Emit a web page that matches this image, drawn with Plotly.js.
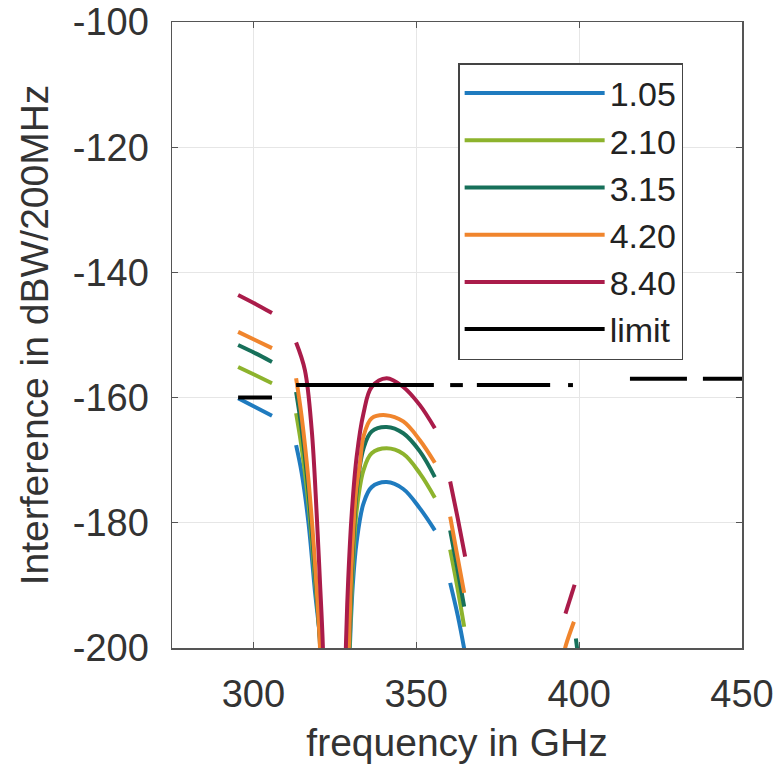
<!DOCTYPE html>
<html>
<head>
<meta charset="utf-8">
<script src="https://cdn.plot.ly/plotly-3.0.1.min.js"></script>
<style>html,body{margin:0;padding:0;background:#fff;}#plot{width:774px;height:768px;}</style>
</head>
<body>
<div id="plot"></div>
<script>
// ---- data (frequency in GHz, interference in dBW/200MHz), null = gap ----
const seriesNames = ["1.05", "2.10", "3.15", "4.20", "8.40", "limit"];

const f105 = [295.3, 300.5, 305.7, null,
  313.1, 314.8, 316.9, 318.9, 320.7, 321.4, null,
  328.9, 329.6, 330.5, 331.7, 333.8, 336.3, 340.9, 346.0, 351.1, 355.7, null,
  360.4, 362.8, 365.2];
const v105 = [-160.1, -161.5, -162.9, null,
  -167.6, -172, -180, -191, -200, -212, null,
  -212, -200, -190, -183, -176.9, -174.3, -173.5, -174.6, -177.7, -181.2, null,
  -189.6, -195, -201.5];

const f210 = [295.3, 300.5, 305.7, null,
  313.1, 314.8, 316.9, 318.9, 320.6, 321.3, null,
  328.8, 329.5, 330.4, 331.7, 333.8, 336.3, 340.9, 346.0, 351.1, 355.7, null,
  360.4, 362.5, 364.7];
const v210 = [-155.1, -156.4, -157.7, null,
  -162.5, -168, -177, -189, -200, -212, null,
  -212, -200, -188, -178, -171.6, -168.9, -168.1, -169, -172.1, -176, null,
  -184.3, -190, -196.6];

const f315 = [295.3, 300.5, 305.7, null,
  313.1, 314.8, 316.9, 318.9, 320.5, 321.2, null,
  328.7, 329.4, 330.3, 331.7, 333.8, 336.3, 340.9, 346.0, 351.1, 355.7, null,
  360.4, 362.5, 364.7, null,
  399.0, 399.6];
const v315 = [-151.6, -152.9, -154.3, null,
  -159.1, -165, -175, -188, -200, -212, null,
  -212, -200, -187, -175, -168.1, -165.4, -164.7, -165.7, -168.6, -172.7, null,
  -181.2, -187, -193.4, null,
  -198.5, -201];

const f420 = [295.3, 300.5, 305.7, null,
  313.1, 314.8, 316.9, 318.9, 320.4, 321.1, null,
  328.6, 329.3, 330.2, 331.5, 332.7, 333.8, 336.3, 340.6, 346.0, 351.1, 355.7, null,
  360.4, 362.5, 364.7, null,
  395.4, 395.8, 398.4];
const v420 = [-149.5, -150.8, -152.1, null,
  -156.9, -163, -173.2, -186.5, -199.5, -212, null,
  -212, -200, -186, -175, -170.5, -166.2, -163.3, -162.8, -163.8, -166.8, -170.4, null,
  -179, -185, -191.2, null,
  -201, -199.8, -195.8];

const f840 = [295.3, 300.5, 305.7, null,
  313.1, 315.8, 317.9, 319.4, 320.4, 321.3, 321.8, null,
  327.9, 328.4, 329.1, 330.2, 331.7, 333.8, 336.3, 340.9, 346.0, 351.1, 355.7, null,
  360.4, 362.7, 365.0, null,
  395.8, 398.6];
const v840 = [-143.6, -145, -146.5, null,
  -151.2, -155.6, -165.2, -178.4, -189.1, -199.5, -212, null,
  -212, -199.5, -189.1, -178.4, -169.4, -162.5, -158.3, -156.9, -158.3, -161.2, -164.9, null,
  -173.4, -179.2, -185.4, null,
  -194.5, -189.9];

const fLimit = [295.3, 305.7, null, 313.1, 355.4, null, 360.4, 364.3, null,
  368.6, 391.1, null, 396.6, 398.1, null, 415.6, 433.1, null, 438.0, 450.0];
const vLimit = [-160, -160, null, -158, -158, null, -158, -158, null,
  -158, -158, null, -158, -158, null, -157, -157, null, -157, -157];

const xTicks = [300, 350, 400, 450];
const yTicks = [-200, -180, -160, -140, -120, -100];

// ---- styling ----
const colors = ["#1f7bbf", "#8db32d", "#17705a", "#f0852d", "#aa1c4a", "#000000"];
const xs = [f105, f210, f315, f420, f840, fLimit];
const ys = [v105, v210, v315, v420, v840, vLimit];

const traces = xs.map((x, i) => ({
  type: "scatter",
  mode: "lines",
  x: x,
  y: ys[i],
  name: seriesNames[i],
  connectgaps: false,
  line: { color: colors[i], width: 4, shape: i < 5 ? "spline" : "linear", smoothing: 1 },
  hoverinfo: "skip"
}));

const fontFam = "'Liberation Sans', Arial, sans-serif";
const textCol = "#333333";

const layout = {
  width: 774,
  height: 768,
  margin: { l: 172, r: 32, t: 22, b: 120 },
  paper_bgcolor: "#ffffff",
  plot_bgcolor: "#ffffff",
  font: { family: fontFam, color: textCol },
  showlegend: true,
  legend: {
    x: 0.502, y: 0.9345, xanchor: "left", yanchor: "top",
    bgcolor: "#ffffff",
    bordercolor: "#444444",
    borderwidth: 1.5,
    font: { family: fontFam, size: 34, color: "#222222" },
    itemwidth: 140,
    traceorder: "normal"
  },
  xaxis: {
    range: [275, 450],
    tickvals: xTicks,
    ticktext: xTicks.map(String),
    showgrid: true,
    gridcolor: "#e6e6e6",
    gridwidth: 1,
    zeroline: false,
    showline: true,
    linecolor: "#555555",
    linewidth: 1.5,
    mirror: "ticks",
    ticks: "inside",
    ticklen: 6,
    tickcolor: "#555555",
    tickfont: { size: 38, color: textCol, family: fontFam },
    ticklabelstandoff: 12,
    title: { text: "frequency in GHz", font: { size: 39, color: textCol, family: fontFam }, standoff: 14 }
  },
  yaxis: {
    range: [-200, -100],
    tickvals: yTicks,
    ticktext: yTicks.map(String),
    showgrid: true,
    gridcolor: "#e6e6e6",
    gridwidth: 1,
    zeroline: false,
    showline: true,
    linecolor: "#555555",
    linewidth: 1.5,
    mirror: "ticks",
    ticks: "inside",
    ticklen: 6,
    tickcolor: "#555555",
    tickfont: { size: 38, color: textCol, family: fontFam },
    ticklabelstandoff: 14,
    title: { text: "Interference in dBW/200MHz", font: { size: 39, color: textCol, family: fontFam }, standoff: 12 }
  }
};

Plotly.newPlot("plot", traces, layout, { staticPlot: true, displayModeBar: false });
</script>
</body>
</html>
